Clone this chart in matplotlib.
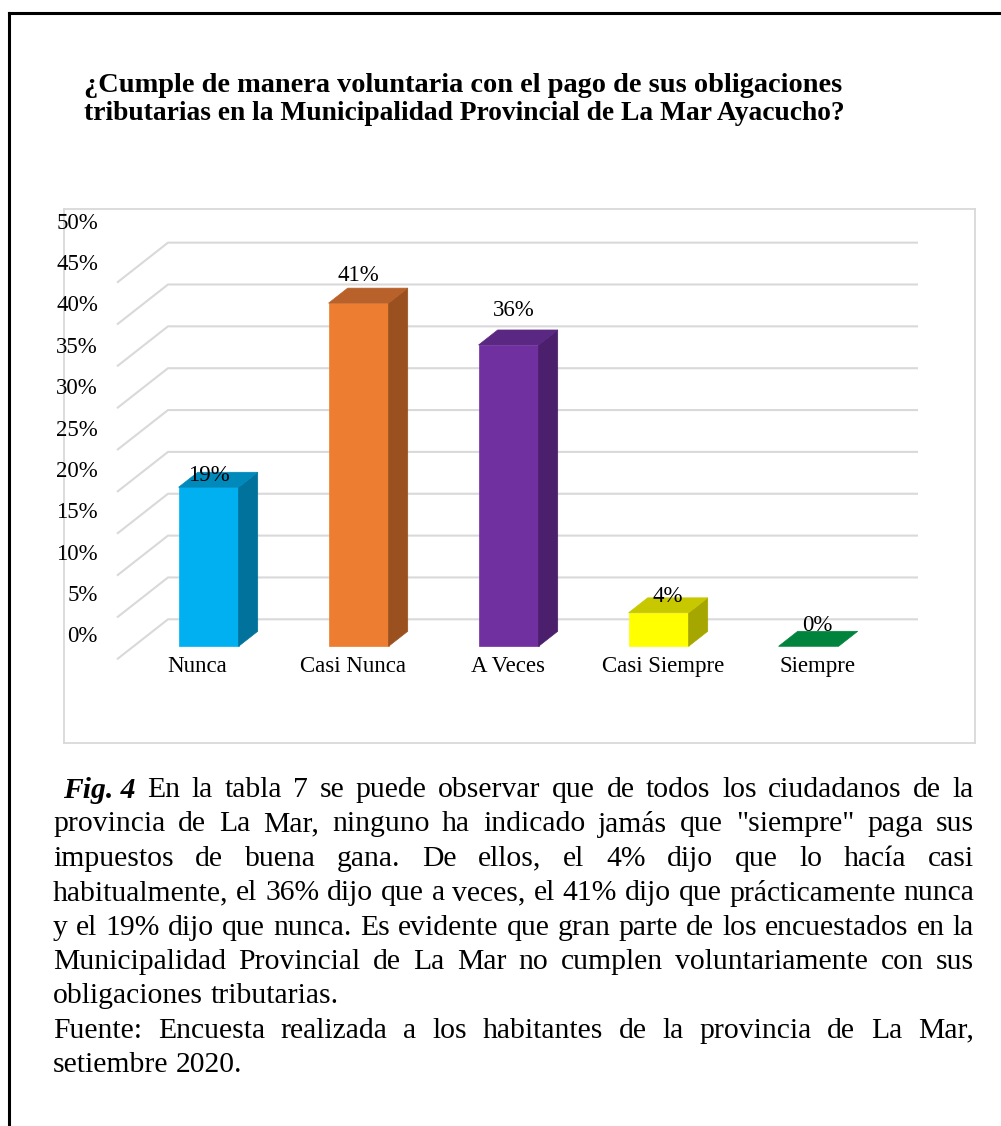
import matplotlib
matplotlib.use('Agg')
import matplotlib.pyplot as plt
from matplotlib.patches import Polygon
from matplotlib.lines import Line2D

# ---------------- data ----------------
categories = ['Nunca', 'Casi Nunca', 'A Veces', 'Casi Siempre', 'Siempre']
values = [19, 41, 36, 4, 0]
value_labels = ['19%', '41%', '36%', '4%', '0%']
y_ticks = [0, 5, 10, 15, 20, 25, 30, 35, 40, 45, 50]
y_tick_labels = ['0%', '5%', '10%', '15%', '20%', '25%', '30%', '35%', '40%', '45%', '50%']

title_lines = ['¿Cumple de manera voluntaria con el pago de sus obligaciones',
               'tributarias en la Municipalidad Provincial de La Mar Ayacucho?']
caption_lines = [
    'En la tabla 7 se puede observar que de todos los ciudadanos de la',
    'provincia de La Mar, ninguno ha indicado jamás que "siempre" paga sus',
    'impuestos de buena gana. De ellos, el 4% dijo que lo hacía casi',
    'habitualmente, el 36% dijo que a veces, el 41% dijo que prácticamente nunca',
    'y el 19% dijo que nunca. Es evidente que gran parte de los encuestados en la',
    'Municipalidad Provincial de La Mar no cumplen voluntariamente con sus',
    'obligaciones tributarias.',
    'Fuente: Encuesta realizada a los habitantes de la provincia de La Mar,',
    'setiembre 2020.',
]
caption_justify = [True, True, True, True, True, True, False, True, False]
fig_label = 'Fig. 4'

# ---------------- styles ----------------
front_colors = ['#00B0F0', '#ED7D31', '#7030A0', '#FFFF00', '#00843D']
side_colors = ['#00729C', '#9A511F', '#4B1F6B', '#A6A600', '#005A2A']
top_colors = ['#0089BB', '#B8612A', '#5A2783', '#C8C800', '#00843D']
grid_color = '#D9D9D9'
SERIF = 'Liberation Serif'

W, H = 1001, 1126
fig = plt.figure(figsize=(W / 100, H / 100), dpi=100)
fig.patch.set_facecolor('white')
renderer = fig.canvas.get_renderer()

# outer black frame (left & top)
fig.add_artist(Line2D([9 / W, 9 / W], [0, 1 - 13 / H], color='black', lw=2.2,
                      transform=fig.transFigure))
fig.add_artist(Line2D([9 / W, 1], [1 - 13 / H, 1 - 13 / H], color='black', lw=2.2,
                      transform=fig.transFigure))

# ---------------- chart ----------------
box_l, box_r, box_t, box_b = 64, 975, 209, 743
x0_px, px_per_cat = 117, 150.0
y0_px, px_per_pct = 659.3, 8.37
ax = fig.add_axes([box_l / W, 1 - box_b / H, (box_r - box_l) / W, (box_b - box_t) / H])
ax.set_xlim((box_l - x0_px) / px_per_cat, (box_r - x0_px) / px_per_cat)
ax.set_ylim(-(box_b - y0_px) / px_per_pct, (y0_px - box_t) / px_per_pct)
ax.set_xticks([])
ax.set_yticks([])
for s in ax.spines.values():
    s.set_color(grid_color)
    s.set_linewidth(1.3)

DX = 51 / px_per_cat      # depth shift in category units
DY = 40 / px_per_pct      # depth shift in percent units
n = len(categories)

# gridlines (left wall diagonals + back wall)
for v in y_ticks:
    if v >= 50:
        continue
    ax.plot([0, DX, n + DX], [v, v + DY, v + DY], color=grid_color, lw=1.5,
            solid_capstyle='butt', zorder=1)

# 3D bars
z0, z1 = 0.325, 0.70
bw = 0.4
for i, (v, fc, sc, tc) in enumerate(zip(values, front_colors, side_colors, top_colors)):
    xl = i + 0.5 - bw / 2
    xr = i + 0.5 + bw / 2
    fx, fy = z0 * DX, z0 * DY
    bx, by = z1 * DX, z1 * DY
    if v > 0:
        front = [(xl + fx, fy), (xr + fx, fy), (xr + fx, v + fy), (xl + fx, v + fy)]
        side = [(xr + fx, fy), (xr + bx, by), (xr + bx, v + by), (xr + fx, v + fy)]
        ax.add_patch(Polygon(front, closed=True, facecolor=fc, edgecolor=fc, lw=0.5, zorder=3))
        ax.add_patch(Polygon(side, closed=True, facecolor=sc, edgecolor=sc, lw=0.5, zorder=3))
    top = [(xl + fx, v + fy), (xr + fx, v + fy), (xr + bx, v + by), (xl + bx, v + by)]
    ax.add_patch(Polygon(top, closed=True, facecolor=tc, edgecolor=tc, lw=0.5, zorder=3))

# value labels (offsets in pixels from front-top centre)
label_offsets_px = [(0, 12), (0, 28), (5, 34), (9, 16), (9, 21)]
for i, (v, lab) in enumerate(zip(values, value_labels)):
    cx = i + 0.5 + z0 * DX
    cy = v + z0 * DY
    ox, oy = label_offsets_px[i]
    ax.annotate(lab, (cx, cy), xytext=(ox, oy), textcoords='offset pixels',
                ha='center', va='center', fontsize=16.5, family=SERIF,
                color='black', zorder=5, annotation_clip=False)

# y tick labels
lab_top_px, lab_bot_px = 223.3, 636.7
for v, lab in zip(y_ticks, y_tick_labels):
    ypx = lab_bot_px - (lab_bot_px - lab_top_px) * v / 50.0
    ax.text((98 - x0_px) / px_per_cat, (y0_px - ypx) / px_per_pct, lab,
            ha='right', va='center', fontsize=16.5, family=SERIF, clip_on=False, zorder=5)

# category labels
for i, c in enumerate(categories):
    xpx = 197.5 + 155.1 * i
    ax.text((xpx - x0_px) / px_per_cat, (y0_px - 666.7) / px_per_pct, c,
            ha='center', va='center', fontsize=16.5, family=SERIF, clip_on=False, zorder=5)


def measure(t):
    return t.get_window_extent(renderer).width


# ---------------- title ----------------
title_left = 84
title_right = [841, 845]
title_y = [85, 113]
for k, line in enumerate(title_lines):
    probe = fig.text(0, 0, line, fontsize=20, fontweight='bold', family=SERIF)
    fs = 20 * (title_right[k] - title_left) / measure(probe)
    probe.remove()
    fig.text(title_left / W, 1 - title_y[k] / H, line, fontsize=fs, fontweight='bold',
             family=SERIF, ha='left', va='center')

# ---------------- caption (justified) ----------------
cap_left, cap_right = 53, 974
line0_y, line_step = 790, 34.4

probe = fig.text(0, 0, caption_lines[3], fontsize=20, family=SERIF)
cap_fs = 20 * (cap_right - cap_left - 4) / measure(probe)
probe.remove()

sp1 = fig.text(0, 0, 'a a', fontsize=cap_fs, family=SERIF)
sp2 = fig.text(0, 0, 'aa', fontsize=cap_fs, family=SERIF)
space_w = measure(sp1) - measure(sp2)
sp1.remove(); sp2.remove()

for k, (line, just) in enumerate(zip(caption_lines, caption_justify)):
    y = 1 - (line0_y + line_step * k) / H
    tokens = [(w, 'normal', 'normal') for w in line.split(' ')]
    start = cap_left
    if k == 0:
        tokens = [(fig_label, 'bold', 'italic')] + tokens
        start = 63
    texts = [fig.text(0, y, w, fontsize=cap_fs, fontweight=wt, fontstyle=st,
                      family=SERIF, ha='left', va='center') for w, wt, st in tokens]
    widths = [measure(t) for t in texts]
    if just and len(texts) > 1:
        gap = (cap_right - start - sum(widths)) / (len(texts) - 1)
    else:
        gap = space_w
    x = start
    for t, wd in zip(texts, widths):
        t.set_x(x / W)
        x += wd + gap

fig.savefig('out.png', dpi=100, facecolor='white')
